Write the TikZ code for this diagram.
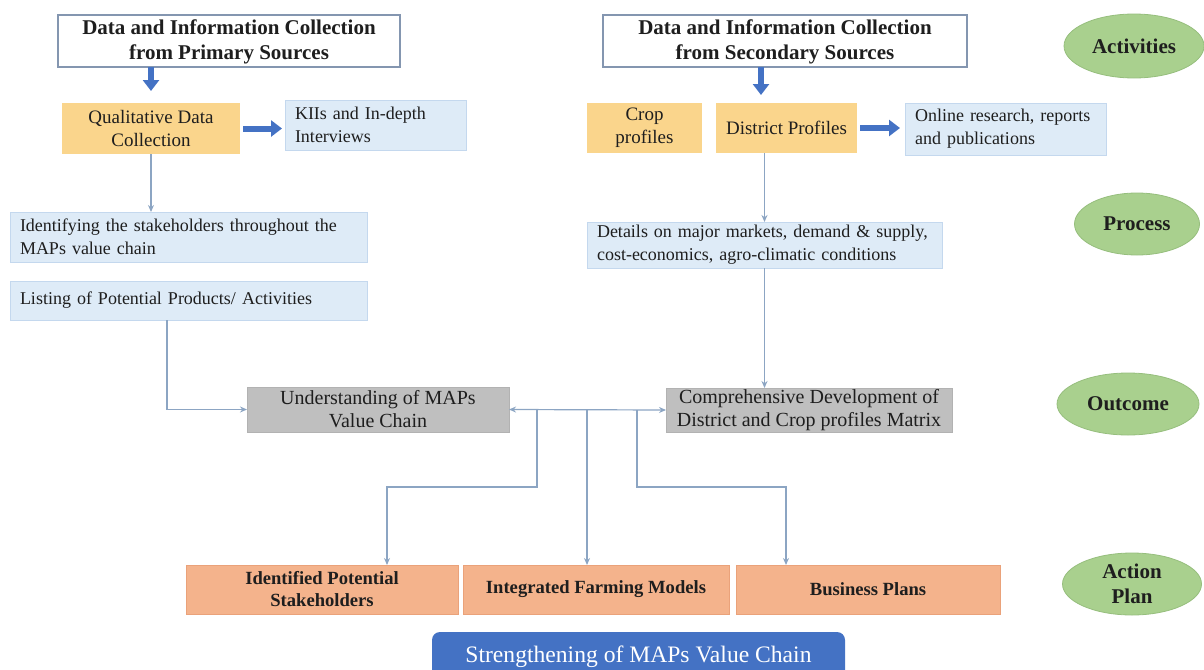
\documentclass[tikz,border=0pt]{standalone}
\usepackage{fontspec}
\setmainfont{Liberation Serif}
\usetikzlibrary{arrows.meta,shapes.geometric,calc}

\definecolor{frameblue}{RGB}{132,150,176}
\definecolor{gold}{RGB}{250,213,140}
\definecolor{paleblue}{RGB}{222,235,247}
\definecolor{paleedge}{RGB}{196,216,238}
\definecolor{greybox}{RGB}{191,191,191}
\definecolor{greyedge}{RGB}{178,178,178}
\definecolor{salmon}{RGB}{244,179,140}
\definecolor{salmonedge}{RGB}{234,162,122}
\definecolor{leaf}{RGB}{169,208,142}
\definecolor{leafedge}{RGB}{150,190,125}
\definecolor{royal}{RGB}{68,114,196}
\definecolor{wire}{RGB}{140,165,195}
\definecolor{ink}{RGB}{30,30,30}

\tikzset{
  base/.style={inner sep=0pt, outer sep=0pt, text=ink,
    font=\fontsize{9.5}{11.5}\selectfont},
  headbox/.style={base, draw=frameblue, line width=0.9pt, fill=white,
    align=center, font=\bfseries\fontsize{10.5}{12.5}\selectfont},
  goldbox/.style={base, fill=gold, align=center},
  paleleft/.style={base, fill=paleblue, draw=paleedge, line width=0.5pt,
    align=left, inner xsep=5pt, font=\fontsize{9}{11.5}\selectfont},
  greyb/.style={base, fill=greybox, draw=greyedge, line width=0.4pt,
    align=center, font=\fontsize{10}{11.5}\selectfont},
  planbox/.style={base, fill=salmon, draw=salmonedge, line width=0.5pt,
    align=center, font=\bfseries\fontsize{9.3}{11}\selectfont},
  tag/.style={ellipse, fill=leaf, draw=leafedge, line width=0.4pt,
    inner sep=0pt, align=center, text=ink,
    font=\bfseries\fontsize{10.5}{12.5}\selectfont},
  fat/.style={royal, line width=3pt, -{Triangle[width=8pt,length=5.5pt]}},
  wirelink/.style={wire, line width=0.6pt,
    >={Stealth[length=3.5pt,width=3pt]}, ->},
}

\begin{document}
\begin{tikzpicture}[x=0.5pt,y=-0.5pt]
\useasboundingbox (0,0) rectangle (1204,669);

% --- activities row
\node[headbox, minimum width=171pt, minimum height=26pt, text depth=1.5pt] (prim) at (229,41)
  {Data and Information Collection\\from Primary Sources};
\node[headbox, minimum width=182pt, minimum height=26pt, text depth=1.5pt] (sec) at (785,41)
  {Data and Information Collection\\from Secondary Sources};

\node[goldbox, minimum width=89pt, minimum height=25.5pt] (qual) at (151,128.5)
  {Qualitative Data\\Collection};
\node[paleleft, text width=80.5pt, minimum height=25pt] (kii) at (375.5,125)
  {\mbox{KIIs and In-depth}\\\mbox{Interviews}};

\node[goldbox, minimum width=57.5pt, minimum height=25pt] (crop) at (644.5,128)
  {Crop\\profiles};
\node[goldbox, minimum width=70.5pt, minimum height=25pt] (dist) at (786.5,128)
  {District Profiles};
\node[paleleft, text width=90.5pt, minimum height=26pt] (onl) at (1005.5,129)
  {\mbox{Online research, reports}\\\mbox{and publications}};

% --- process row
\node[paleleft, text width=168.5pt, minimum height=25pt] (ident) at (188.5,237)
  {\mbox{Identifying the stakeholders throughout the}\\\mbox{MAPs value chain}};
\node[paleleft, text width=168.5pt, minimum height=19.5pt] (list) at (188.5,300.5)
  {\mbox{Listing of Potential Products/ Activities}};
\node[paleleft, text width=167.5pt, minimum height=23pt] (det) at (764.5,245)
  {\mbox{Details on major markets, demand \& supply,}\\\mbox{cost-economics, agro-climatic conditions}};

% --- outcome row
\node[greyb, minimum width=131pt, minimum height=22.5pt] (und) at (378,409.5)
  {Understanding of MAPs\\Value Chain};
\node[greyb, minimum width=143pt, minimum height=22pt] (comp) at (809,410)
  {Comprehensive Development of\\District and Crop profiles Matrix};

% --- action plan row
\node[planbox, minimum width=136pt, minimum height=24.5pt] (idp) at (322,589.5)
  {Identified Potential\\Stakeholders};
\node[planbox, minimum width=133pt, minimum height=24.5pt] (ifm) at (596,589.5)
  {Integrated Farming Models};
\node[planbox, minimum width=132pt, minimum height=24.5pt] (bp) at (868,589.5)
  {Business Plans};

\node[base, fill=royal, rounded corners=4pt, text=white,
  font=\fontsize{11.8}{13}\selectfont, anchor=north,
  minimum width=206.5pt, minimum height=25pt] (str) at (638.5,632)
  {Strengthening of MAPs Value Chain};

% --- stage labels
\node[tag, minimum width=70pt, minimum height=32pt] (lact) at (1134,46) {Activities};
\node[tag, minimum width=62.5pt, minimum height=31pt] (lproc) at (1137,224) {Process};
\node[tag, minimum width=71pt, minimum height=31pt] (lout) at (1128,404) {Outcome};
\node[tag, minimum width=69.5pt, minimum height=31pt] (lact2) at (1132,584) {Action\\Plan};

% --- block arrows
\draw[fat] (prim.south -| qual.north) -- ($(qual.north)+(0,-12)$);
\draw[fat] ($(qual.east)+(3,0)$) -- ($(kii.west |- qual.east)+(-3,0)$);
\coordinate (secout) at ($(sec.south)+(-24,0)$);
\draw[fat] (secout) -- ($(secout |- dist.north)+(0,-8)$);
\draw[fat] ($(dist.east)+(3,0)$) -- ($(onl.west |- dist.east)+(-5,0)$);

% --- thin connectors
\draw[wirelink] (qual.south) -- (qual.south |- ident.north);
\draw[wirelink] ($(list.south)+(-21.5,0)$) |- (und.west);
\draw[wirelink] (det.north |- dist.south) -- (det.north);
\draw[wirelink] (det.south) -- (det.south |- comp.north);
\draw[wirelink,<->] (und.east) -- (comp.west);

\coordinate (bl) at (537,410);
\coordinate (bm) at (587,410);
\coordinate (br) at (637,410);
\draw[wirelink] (bl) -- ++(0,77) -| ($(idp.north)+(65,0)$);
\draw[wirelink] (bm) -- ($(ifm.north)+(-9,0)$);
\draw[wirelink] (br) -- ++(0,77) -| ($(bp.north)+(-82,0)$);
\end{tikzpicture}
\end{document}
